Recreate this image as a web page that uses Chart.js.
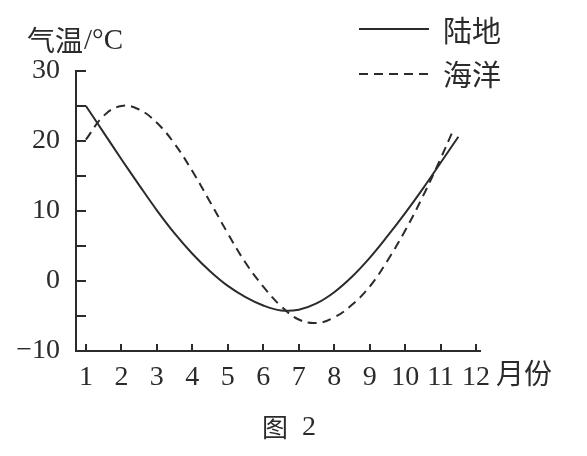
<!DOCTYPE html>
<html>
<head>
<meta charset="utf-8">
<script src="https://cdn.jsdelivr.net/npm/chart.js@4.4.1/dist/chart.umd.min.js"></script>
<style>
	body { margin: 0; background: #fff; }
	canvas { display: block; }
</style>
</head>
<body>
<canvas id="graphique" width="587" height="456"></canvas>
<script>
// Données
const moisTicks = [1, 2, 3, 4, 5, 6, 7, 8, 9, 10, 11, 12];
const tempTicks = [-10, -5, 0, 5, 10, 15, 20, 25, 30];

const moisTerre = [1, 1.5, 2, 2.5, 3, 3.5, 4, 4.5, 5, 5.5, 6, 6.5, 7, 7.5, 8, 8.5, 9, 9.5, 10, 10.5, 11, 11.5];
const tempTerre = [25, 21.2, 17.4, 13.7, 10.1, 6.8, 3.9, 1.4, -0.7, -2.3, -3.5, -4.2, -4.1, -3.2, -1.6, 0.6, 3.3, 6.4, 9.7, 13.2, 16.9, 20.6];

const moisMer = [1, 1.5, 2, 2.5, 3, 3.5, 4, 4.5, 5, 5.5, 6, 6.5, 7, 7.5, 8, 8.5, 9, 9.5, 10, 10.5, 11, 11.35];
const tempMer = [20.2, 23.6, 25, 24.5, 22.6, 19.6, 15.7, 11.3, 6.8, 2.6, -0.8, -3.6, -5.5, -6.0, -5.2, -3.4, -0.8, 2.9, 7.2, 12.1, 17.5, 21.5];

const couleur = '#2b2b2b';
const policeChiffres = 'Liberation Serif';
const policeCJK = '"Noto Sans CJK SC"';

function points(xs, ys) {
	return xs.map((x, i) => ({ x: x, y: ys[i] }));
}

// Graduations intérieures, légende et textes
const decor = {
	id: 'decor',
	afterDraw(chart) {
		const ctx = chart.ctx;
		const sx = chart.scales.x;
		const sy = chart.scales.y;
		const area = chart.chartArea;
		ctx.save();
		ctx.strokeStyle = couleur;
		ctx.lineWidth = 2;
		// graduations x vers le haut
		for (const m of moisTicks) {
			const px = Math.round(sx.getPixelForValue(m));
			ctx.beginPath();
			ctx.moveTo(px, area.bottom);
			ctx.lineTo(px, area.bottom - 7);
			ctx.stroke();
		}
		// graduations y vers la droite
		for (const t of tempTicks) {
			if (t === -10) continue;
			const py = Math.round(sy.getPixelForValue(t));
			ctx.beginPath();
			ctx.moveTo(area.left, py);
			ctx.lineTo(area.left + 10, py);
			ctx.stroke();
		}
		// légende
		ctx.beginPath();
		ctx.moveTo(359, 29);
		ctx.lineTo(429, 29);
		ctx.stroke();
		ctx.setLineDash([9, 6]);
		ctx.beginPath();
		ctx.moveTo(359, 74);
		ctx.lineTo(432, 74);
		ctx.stroke();
		ctx.setLineDash([]);

		ctx.fillStyle = couleur;
		ctx.textBaseline = 'middle';
		ctx.textAlign = 'left';
		ctx.font = '29px ' + policeCJK;
		ctx.fillText('陆地', 443, 31);
		ctx.fillText('海洋', 443, 75);
		ctx.font = '28px ' + policeCJK;
		ctx.fillText('月份', 496, 373);
		ctx.font = '26px ' + policeCJK;
		ctx.fillText('图', 262, 427);
		ctx.font = '28px ' + policeChiffres;
		ctx.fillText('2', 302, 428);
		// titre axe y
		ctx.font = '28px ' + policeCJK;
		ctx.fillText('气温', 27, 40);
		ctx.font = '29px ' + policeChiffres;
		ctx.fillText('/°C', 84, 41);
		ctx.restore();
	}
};

const config = {
	type: 'line',
	data: {
		datasets: [
			{
				label: '陆地',
				data: points(moisTerre, tempTerre),
				borderColor: couleur,
				borderWidth: 2,
				pointRadius: 0,
				fill: false,
				tension: 0.4,
			},
			{
				label: '海洋',
				data: points(moisMer, tempMer),
				borderColor: couleur,
				borderWidth: 2,
				borderDash: [9, 6],
				pointRadius: 0,
				fill: false,
				tension: 0.4,
			},
		],
	},
	options: {
		responsive: false,
		animation: false,
		devicePixelRatio: 1,
		layout: { padding: { left: 0, right: 107, top: 71, bottom: 0 } },
		plugins: {
			legend: { display: false },
			tooltip: { enabled: false },
		},
		scales: {
			x: {
				type: 'linear',
				min: 0.72,
				max: 12.11,
				afterBuildTicks: (s) => { s.ticks = moisTicks.map((v) => ({ value: v })); },
				afterFit: (s) => { s.height = 105; },
				grid: { display: false },
				border: { display: true, color: couleur, width: 2 },
				ticks: {
					color: couleur,
					padding: 2,
					maxRotation: 0,
					autoSkip: false,
					font: { family: policeChiffres, size: 28 },
				},
			},
			y: {
				type: 'linear',
				min: -10,
				max: 30,
				afterBuildTicks: (s) => { s.ticks = tempTicks.filter((v) => v % 10 === 0).map((v) => ({ value: v })); },
				afterFit: (s) => { s.width = 76; },
				grid: { display: false },
				border: { display: true, color: couleur, width: 2 },
				ticks: {
					color: couleur,
					padding: 8,
					font: { family: policeChiffres, size: 28 },
					callback: (v) => String(v).replace('-', '−'),
				},
			},
		},
	},
	plugins: [decor],
};

new Chart(document.querySelector('#graphique'), config);
</script>
</body>
</html>
